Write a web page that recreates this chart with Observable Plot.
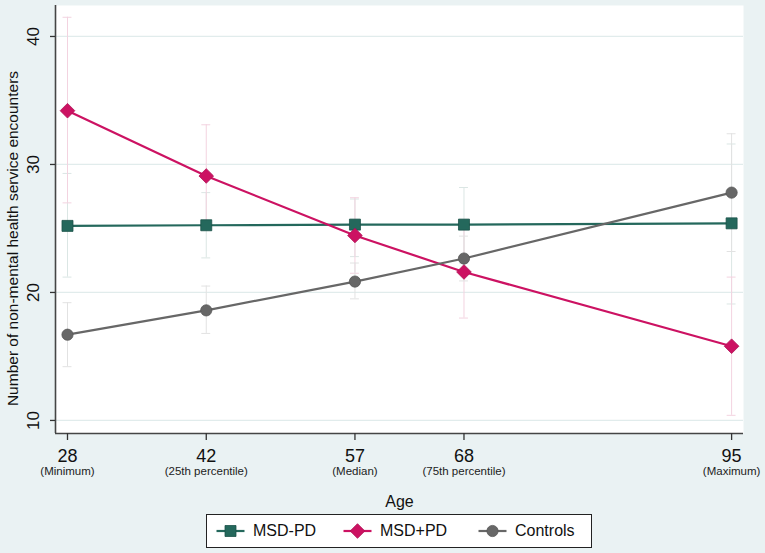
<!DOCTYPE html>
<html><head><meta charset="utf-8">
<script src="https://cdn.jsdelivr.net/npm/d3@7"></script>
<script src="https://cdn.jsdelivr.net/npm/@observablehq/plot@0.6"></script>
<style>
body{margin:0;background:#eaf2f3;font-family:"Liberation Sans",Arial,sans-serif;}
#chart svg{display:block;background:transparent;}
#legend{position:absolute;left:206px;top:514px;width:386px;height:34px;box-sizing:border-box;border:1px solid #222;background:#fff;}
#legend .item{position:absolute;top:0;height:32px;display:flex;align-items:center;font-size:16px;color:#111;}
#legend svg{margin-right:8px;}
</style></head><body>
<div id="chart"></div>
<div id="legend"></div>
<script>
// ---- data ----
const ages = [28, 42, 57, 68, 95];
const ageLabels = ["(Minimum)", "(25th percentile)", "(Median)", "(75th percentile)", "(Maximum)"];
const yTicks = [10, 20, 30, 40];

const msdNoPD   = [25.2, 25.25, 25.3, 25.3, 25.4];
const msdNoPDLo = [21.2, 22.7, 22.8, 22.3, 19.1];
const msdNoPDHi = [29.3, 27.8, 27.3, 28.2, 31.6];

const msdPD   = [34.2, 29.1, 24.45, 21.6, 15.8];
const msdPDLo = [27.0, 25.1, 21.5, 18.0, 10.4];
const msdPDHi = [41.5, 33.1, 27.4, 25.2, 21.2];

const controls   = [16.7, 18.6, 20.85, 22.65, 27.8];
const controlsLo = [14.2, 16.8, 19.5, 20.9, 23.2];
const controlsHi = [19.2, 20.5, 22.3, 24.4, 32.4];

const series = [
  {name: "MSD-PD", v: msdNoPD, lo: msdNoPDLo, hi: msdNoPDHi, color: "#24685c", edge: "#1b5249", light: "#dbe6e4", symbol: "square", r: 6.2},
  {name: "MSD+PD", v: msdPD, lo: msdPDLo, hi: msdPDHi, color: "#cc1262", edge: "#b00f54", light: "#f3d3e0", symbol: "diamond2", r: 6.6},
  {name: "Controls", v: controls, lo: controlsLo, hi: controlsHi, color: "#676767", edge: "#555", light: "#e2e2e2", symbol: "circle", r: 5.6}
];

const rowsOf = s => ages.map((a, i) => ({age: a, value: s.v[i], lo: s.lo[i], hi: s.hi[i]}));

const xDomain = [26.79, 96.2];
const yDomain = [8.98, 42.42];
const capHalf = 0.45;

const marks = [
  Plot.frame({fill: "white", stroke: null}),
  Plot.ruleY(yTicks, {stroke: "#e1ecec", strokeWidth: 1.2})
];
for (const s of series) {
  const rows = rowsOf(s);
  marks.push(Plot.ruleX(rows, {x: "age", y1: "lo", y2: "hi", stroke: s.light, strokeWidth: 1}));
  marks.push(Plot.ruleY(rows, {y: "lo", x1: d => d.age - capHalf, x2: d => d.age + capHalf, stroke: s.light, strokeWidth: 1}));
  marks.push(Plot.ruleY(rows, {y: "hi", x1: d => d.age - capHalf, x2: d => d.age + capHalf, stroke: s.light, strokeWidth: 1}));
}
for (const s of series) {
  const rows = rowsOf(s);
  marks.push(Plot.line(rows, {x: "age", y: "value", stroke: s.color, strokeWidth: 2.2}));
  marks.push(Plot.dot(rows, {x: "age", y: "value", symbol: s.symbol, r: s.r, fill: s.color, stroke: s.edge, strokeWidth: 0.8}));
}
// axes
marks.push(
  Plot.ruleX([xDomain[0]], {stroke: "#454545", strokeWidth: 1.6}),
  Plot.ruleY([yDomain[0]], {stroke: "#454545", strokeWidth: 1.6}),
  Plot.axisY({ticks: yTicks, tickSize: 5, tickFormat: () => "", label: null, stroke: "#333", strokeWidth: 1.3}),
  Plot.text(yTicks, {y: d => d, text: d => String(d), frameAnchor: "left", textAnchor: "middle", lineAnchor: "middle", dx: -22, rotate: -90, fontSize: 17, fill: "#111"}),
  Plot.axisX({ticks: ages, tickSize: 7, tickPadding: 9, tickFormat: d => String(d), fontSize: 18, label: null, stroke: "#333", strokeWidth: 1.3, fill: "#111"}),
  Plot.axisX({ticks: ages, tickSize: 0, tickPadding: 33, tickFormat: d => ageLabels[ages.indexOf(d)], fontSize: 11.5, label: null, fill: "#222"}),
  Plot.text(["Age"], {frameAnchor: "bottom", textAnchor: "middle", lineAnchor: "middle", dy: 68, fontSize: 16, fill: "#111"}),
  Plot.text(["Number of non-mental health service encounters"], {frameAnchor: "left", textAnchor: "middle", lineAnchor: "middle", dx: -42, dy: 19, rotate: -90, fontSize: 15.5, fill: "#111"})
);

const chart = Plot.plot({
  width: 765,
  height: 512,
  marginLeft: 55,
  marginRight: 22,
  marginTop: 5,
  marginBottom: 79,
  style: {fontFamily: '"Liberation Sans", Arial, sans-serif', background: "transparent", overflow: "visible"},
  x: {domain: xDomain, axis: null},
  y: {domain: yDomain, axis: null},
  marks
});
document.getElementById("chart").append(chart);

// legend
const legend = document.getElementById("legend");
const lefts = [9, 136, 271];
const sym = {square: d3.symbolSquare, diamond2: d3.symbolDiamond2, circle: d3.symbolCircle};
series.forEach((s, i) => {
  const item = document.createElement("div");
  item.className = "item";
  item.style.left = lefts[i] + "px";
  const path = d3.symbol(sym[s.symbol], Math.PI * s.r * s.r)();
  item.innerHTML = `<svg width="29" height="16" viewBox="-14.5 -8 29 16"><line x1="-14" x2="14" y1="0" y2="0" stroke="${s.color}" stroke-width="2.2"/><path d="${path}" fill="${s.color}" stroke="${s.edge}" stroke-width="0.8"/></svg><span>${s.name}</span>`;
  legend.append(item);
});
</script>
</body></html>
